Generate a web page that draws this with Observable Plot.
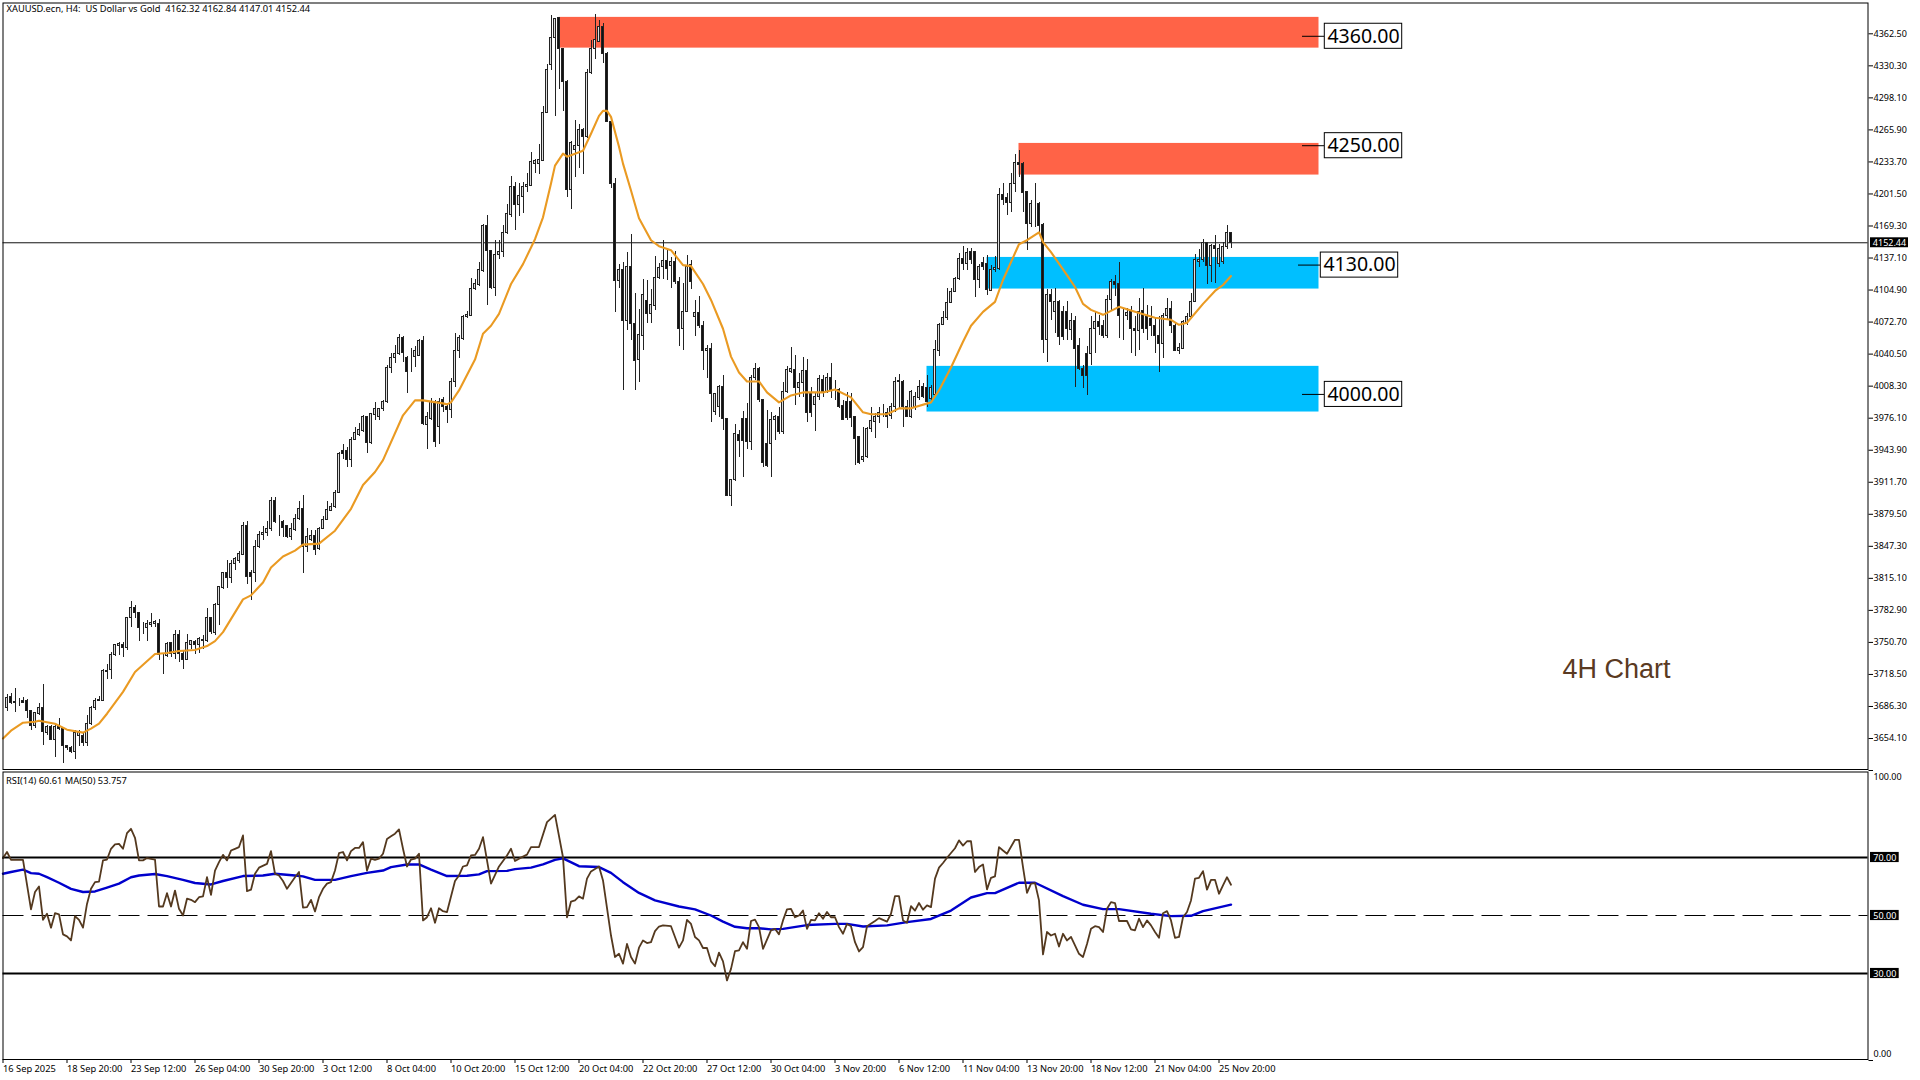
<!DOCTYPE html>
<html><head><meta charset="utf-8">
<script src="https://cdn.jsdelivr.net/npm/d3@7"></script>
<script src="https://cdn.jsdelivr.net/npm/@observablehq/plot@0.6"></script>
<style>
html,body{margin:0;padding:0;background:#fff;}
#chart{width:1920px;height:1080px;overflow:hidden;}
#chart svg{display:block;overflow:visible;}
</style></head><body><div id="chart"></div>
<script>
const opens=[3685,3696,3690,3691,3692,3692,3682,3667,3679,3685,
3660,3666,3653,3666,3664,3647,3645,3641,3657,3657,
3650,3669,3685,3692,3692,3721,3723,3738,3747,3748,
3745,3775,3785,3780,3765,3765,3768,3769,3769,3738,
3737,3750,3739,3758,3739,3733,3748,3751,3748,3752,
3752,3775,3760,3788,3805,3820,3815,3830,3833,3839,
3868,3820,3820,3847,3859,3861,3865,3893,3872,3872,
3868,3857,3864,3875,3885,3847,3854,3858,3845,3865,
3874,3883,3887,3901,3943,3943,3934,3954,3959,3963,
3977,3951,3979,3977,3985,3992,4027,4037,4041,4057,
4037,4039,4038,4039,4054,3969,3975,3992,3967,3994,
3987,3984,4012,4044,4056,4078,4079,4106,4110,4124,
4169,4144,4107,4140,4143,4162,4180,4209,4190,4198,
4208,4210,4232,4232,4235,4283,4331,4358,4378,4347,
4314,4205,4246,4250,4266,4259,4323,4347,4354,4369,
4342,4274,4212,4114,4125,4074,4128,4071,4035,4059,
4094,4081,4089,4117,4128,4134,4129,4133,4113,4066,
4083,4130,4078,4082,4069,4044,4046,3982,3987,4007,
3975,3898,3914,3959,3975,3975,3952,4017,4026,3994,
3950,3950,3974,3977,3962,4002,4023,4025,4006,4011,
4024,4001,3989,3997,4014,4002,4017,4004,4004,3988,
3992,3992,3977,3957,3934,3937,3965,3972,3977,3981,
3981,3978,3987,4012,4012,3987,3977,3987,3996,4007,
4006,3995,3999,4044,4070,4077,4092,4103,4116,4136,
4131,4143,4143,4115,4132,4131,4104,4125,4126,4200,
4197,4192,4212,4233,4232,4203,4171,4191,4191,4170,
4055,4100,4083,4093,4083,4083,4065,4074,4049,4026,
4041,4041,4066,4073,4069,4059,4095,4113,4111,4079,
4079,4083,4066,4064,4084,4079,4076,4069,4059,4051,
4079,4086,4069,4044,4046,4072,4078,4093,4133,4135,
4152,4129,4149,4131,4133,4148,4162.32];
const highs=[3698,3699,3704,3694,3695,3693,3682,3680,3689,3708,
3667,3667,3667,3674,3664,3647,3646,3662,3662,3660,
3677,3686,3694,3696,3723,3728,3741,3749,3751,3751,
3776,3792,3788,3780,3771,3773,3780,3773,3774,3740,
3751,3751,3763,3763,3742,3759,3753,3753,3756,3758,
3785,3776,3790,3806,3820,3833,3833,3836,3842,3871,
3872,3823,3853,3862,3867,3872,3896,3896,3878,3873,
3868,3870,3879,3892,3898,3865,3863,3863,3866,3877,
3892,3890,3903,3942,3950,3947,3957,3967,3971,3979,
3977,3981,3992,3986,3994,4029,4041,4049,4060,4058,
4038,4046,4048,4055,4058,3982,3996,3994,3996,3997,
3989,4016,4061,4059,4079,4083,4117,4116,4133,4171,
4180,4144,4155,4155,4170,4191,4219,4213,4212,4213,
4222,4243,4236,4251,4289,4332,4381,4378,4379,4347,
4316,4254,4275,4271,4267,4327,4356,4382,4376,4373,
4344,4274,4217,4131,4133,4143,4161,4101,4085,4116,
4115,4105,4139,4132,4155,4145,4138,4144,4118,4111,
4140,4135,4094,4098,4073,4049,4051,4001,4009,4019,
3976,3914,3970,3964,3983,3991,4019,4031,4027,3994,
3984,3982,3979,3987,4012,4028,4047,4039,4021,4037,
4035,4007,4002,4019,4019,4021,4031,4014,4006,3994,
4002,4001,3978,3958,3967,3967,3987,3981,3987,3990,
3986,3991,4017,4020,4014,3994,4004,4002,4014,4011,
4019,4009,4054,4071,4083,4106,4106,4118,4142,4149,
4147,4147,4144,4131,4138,4140,4130,4139,4207,4212,
4202,4222,4241,4245,4233,4203,4195,4212,4193,4172,
4105,4105,4106,4094,4088,4093,4081,4078,4056,4029,
4048,4078,4083,4079,4074,4099,4116,4120,4133,4086,
4086,4088,4078,4096,4106,4089,4088,4076,4078,4081,
4096,4093,4071,4051,4074,4081,4101,4141,4146,4156,
4153,4151,4160,4151,4153,4170,4162.84];
const lows=[3681,3688,3680,3686,3690,3674,3662,3664,3677,3647,
3657,3652,3635,3662,3629,3642,3639,3633,3646,3646,
3646,3667,3682,3691,3692,3713,3713,3737,3738,3736,
3743,3766,3775,3752,3759,3752,3766,3766,3733,3718,
3736,3736,3734,3731,3723,3733,3744,3739,3740,3744,
3751,3759,3758,3768,3804,3805,3810,3823,3830,3838,
3809,3793,3811,3845,3853,3857,3862,3870,3857,3856,
3855,3853,3862,3873,3820,3841,3852,3838,3843,3864,
3873,3882,3885,3900,3935,3927,3927,3954,3958,3962,
3941,3950,3974,3974,3983,3991,4021,4031,4039,4032,
4001,4022,4027,4038,3969,3945,3974,3947,3950,3982,
3971,3976,4007,4036,4054,4076,4078,4104,4108,4123,
4089,4105,4098,4136,4138,4161,4178,4165,4179,4182,
4203,4210,4222,4221,4234,4282,4326,4279,4307,4284,
4198,4186,4218,4227,4221,4257,4322,4337,4354,4333,
4274,4207,4082,4106,4004,4064,4054,4004,4012,4044,
4071,4071,4084,4116,4116,4115,4106,4110,4048,4044,
4082,4105,4058,4066,4024,4016,3972,3979,3977,3964,
3897,3887,3912,3937,3916,3945,3944,4014,3992,3927,
3927,3916,3954,3960,3960,4001,4021,3989,3997,3997,
3972,3977,3963,3994,3997,4001,3996,3994,3986,3974,
3974,3967,3929,3930,3932,3936,3962,3956,3971,3977,
3966,3975,3982,3986,3967,3977,3976,3984,3994,3996,
3987,3992,3997,4038,4069,4074,4091,4102,4115,4125,
4125,4131,4097,4106,4125,4099,4103,4123,4125,4190,
4180,4183,4203,4218,4183,4145,4168,4168,4160,4041,
4032,4074,4061,4049,4054,4054,4054,4007,4024,4006,
3999,4029,4041,4059,4056,4056,4083,4098,4056,4054,
4074,4041,4038,4044,4061,4054,4058,4041,4022,4036,
4074,4061,4043,4040,4045,4069,4076,4092,4128,4133,
4110,4113,4111,4128,4131,4146,4147.01];
const closes=[3695,3690,3690.5,3691,3690,3682,3667,3680,3685,3661,
3666,3653,3666,3664,3647,3645,3641,3660,3660,3650,
3669,3685,3692,3693,3722,3722,3738,3748,3749,3745,
3775,3785,3780,3765,3765,3769,3770,3771,3738,3738,
3749,3739,3758,3739,3733,3750,3752,3748,3754,3753,
3775,3761,3788,3806,3820,3815,3830,3835,3840,3868,
3816,3816,3847,3859,3861,3865,3893,3872,3872,3866,
3857,3865,3875,3885,3847,3857,3858,3844,3865,3874,
3884,3887,3901,3940,3940,3934,3954,3961,3964,3977,
3951,3980,3985,3985,3992,4027,4037,4041,4057,4042,
4023,4039,4044,4054,3970,3977,3992,3952,3992,3987,
3984,4012,4044,4057,4078,4080,4106,4111,4125,4169,
4144,4107,4140,4143,4162,4181,4209,4190,4199,4208,
4211,4234,4235,4236,4283,4326,4358,4377,4347,4314,
4205,4253,4250,4266,4259,4323,4347,4356,4369,4342,
4274,4212,4114,4125,4074,4128,4071,4034,4060,4100,
4081,4090,4117,4127,4134,4126,4133,4113,4066,4083,
4128,4113,4082,4069,4044,4046,4000,4000,4007,3975,
3898,3914,3960,3953,3953,3952,4017,4026,3994,3931,
3928,3974,3977,3962,4002,4025,4026,4006,4011,4024,
3981,3981,3997,4015,4002,4017,4004,4004,3987,3974,
3976,3976,3955,3931,3937,3965,3973,3977,3981,3981,
3977,3987,4012,4013,3987,3977,4002,3997,4007,3997,
3992,4006,4045,4070,4077,4092,4103,4116,4136,4131,
4142,4135,4115,4128,4128,4105,4125,4127,4200,4195,
4192,4212,4233,4231,4202,4171,4191,4191,4169,4055,
4100,4093,4093,4058,4058,4066,4074,4046,4026,4019,
4019,4066,4073,4068,4059,4095,4113,4110,4079,4079,
4082,4066,4064,4083,4066,4066,4069,4059,4051,4079,
4086,4069,4044,4047,4073,4078,4093,4135,4135,4152,
4129,4149,4146,4146,4148,4162,4152.44];

const maBars=[-1,1,4,7,8,12,15,19,21,23,25,29,32,37,40,43,47,50,52,54,59,61,64,66,69,72,74,78,82,86,89,92,94,99,102,104,109,110,111,113,117,119,121,123,126,129,132,134,136,137,139,140,144,146,148,149,150,151,153,154,156,158,161,163,166,169,171,174,176,179,181,183,185,188,190,193,196,199,204,207,211,214,216,220,223,226,231,233,236,239,241,244,247,249,253,255,258,259,261,265,267,269,271,274,278,282,287,291,293,295,299,302,304,306];
const maValues=[3654,3662,3670,3671,3672,3669,3663,3660,3664,3669,3679,3701,3721,3739,3740,3742,3743,3747,3752,3761,3794,3798,3811,3826,3837,3843,3849,3850,3863,3885,3909,3922,3934,3979,3994,3994,3991,3990,3992,4004,4035,4061,4069,4081,4111,4131,4156,4178,4212,4230,4242,4239,4245,4262,4280,4285,4285,4279,4249,4232,4205,4177,4155,4149,4145,4130,4129,4111,4095,4066,4038,4022,4013,4013,4002,3992,3999,4002,4002,4005,3997,3982,3980,3980,3986,3986,3992,4004,4027,4053,4069,4083,4093,4115,4151,4155,4163,4153,4143,4120,4108,4091,4085,4080,4088,4083,4077,4075,4070,4072,4091,4104,4110,4119];

const rsiBars=[-1,0,1,4,6,7,8,9,10,11,12,13,14,15,16,17,18,19,20,21,22,23,24,25,26,27,28,29,30,31,32,33,34,35,37,38,39,40,41,42,43,44,45,46,47,48,49,50,51,52,53,54,55,56,57,58,59,60,61,62,63,65,66,67,68,69,70,72,73,74,75,76,77,78,79,80,81,82,83,84,85,86,87,88,89,90,91,92,93,94,95,96,97,98,99,100,101,102,103,104,105,106,107,108,109,110,112,113,114,115,116,117,118,119,120,121,123,125,126,127,128,130,131,133,135,137,139,140,141,142,143,144,145,146,148,149,151,152,153,154,155,156,157,158,
159,160,161,162,163,164,166,168,169,170,171,172,173,174,175,176,177,178,179,180,181,182,183,184,185,186,187,188,189,191,192,193,194,195,196,197,198,199,200,201,202,203,204,205,206,207,208,209,210,211,212,213,214,215,217,218,220,221,222,223,224,225,226,227,228,229,230,231,232,233,234,235,237,238,239,240,241,242,243,244,245,246,247,248,249,250,252,253,254,255,256,257,258,259,260,261,262,263,264,265,266,268,269,270,271,272,273,274,275,276,277,278,280,281,282,283,284,285,286,287,288,289,290,291,292,293,294,295,296,297,298,299,300,301,302,303,304,305,306];
const rsiValues=[69.8,71.9,69.2,69.2,52.1,58.1,60.0,48.5,50.6,45.8,50.8,50.4,43.5,42.8,41.4,49.8,48.5,45.8,54.0,59.2,61.5,61.7,69.0,69.3,73.0,74.5,74.7,73.0,78.4,79.9,76.8,69.0,69.0,69.8,69.3,53.1,53.1,57.7,53.1,58.6,52.3,50.0,55.8,55.4,54.6,56.3,56.6,63.2,57.1,65.5,68.4,70.9,69.0,72.4,73.0,73.6,77.6,58.4,58.9,64.4,66.5,67.8,72.2,64.4,63.8,61.9,59.2,63.2,65.0,52.7,52.9,55.4,51.4,56.3,59.2,61.0,61.5,65.5,71.5,71.9,69.0,72.2,73.3,73.3,75.3,65.5,69.6,69.2,69.6,71.3,76.4,77.3,78.2,79.7,73.0,66.9,69.3,69.6,71.3,48.3,49.4,52.5,47.5,52.5,51.5,51.2,61.9,63.8,66.9,67.3,70.7,70.9,73.0,77.0,69.0,61.0,66.9,70.7,73.0,68.8,69.6,71.0,73.6,73.6,82.2,84.7,70.1,49.4,54.8,55.2,56.6,55.8,62.7,65.2,66.9,62.1,43.1,35.7,36.8,33.4,40.2,35.7,33.4,38.9,
41.4,40.5,40.8,44.6,46.2,46.6,46.3,38.9,41.4,48.5,47.1,42.6,41.4,38.8,38.8,34.2,32.5,37.2,34.2,27.6,31.6,37.7,38.0,40.8,38.5,48.1,48.6,46.0,38.5,44.9,45.4,43.5,48.3,52.1,52.3,49.4,50.0,51.7,45.4,48.5,48.3,50.8,48.9,51.2,49.4,49.4,46.0,43.7,47.1,46.3,40.8,37.6,39.1,46.3,48.1,49.1,47.9,50.6,56.7,56.7,48.3,47.5,53.2,51.7,54.3,52.0,53.5,52.9,62.7,66.5,68.1,69.9,73.2,75.9,74.1,75.6,75.6,65.0,66.7,67.6,59.0,63.0,63.5,73.6,72.4,71.3,76.1,76.1,66.7,57.8,61.0,61.2,55.2,36.6,44.3,43.1,43.7,39.3,43.7,41.4,42.6,36.8,35.7,40.2,45.4,46.3,46.0,44.3,52.3,54.6,54.3,48.1,48.1,45.2,44.9,48.9,46.0,48.3,46.6,44.3,42.3,50.8,51.5,48.3,42.3,42.6,49.4,51.2,55.2,62.7,63.0,65.3,58.9,62.3,62.3,57.5,60.4,63.2,60.61];

const rsiMaBars=[-1,1,4,6,8,10,13,16,19,22,25,28,31,33,37,40,44,47,51,54,59,64,67,72,74,77,82,86,90,94,96,100,103,106,110,115,118,120,125,127,131,134,137,139,143,148,151,154,158,162,168,172,176,179,182,185,188,191,194,200,207,210,214,220,225,231,236,241,245,247,253,257,264,269,274,278,286,291,296,299,306];
const rsiMaValues=[64.4,65.0,65.8,64.6,64.4,63.2,61.3,59.2,58.1,58.3,59.6,61.0,63.2,63.8,64.3,63.6,62.3,61.2,60.7,61.9,63.6,63.8,64.4,63.8,63.5,62.3,62.3,63.6,64.7,65.5,66.7,67.6,67.6,65.8,63.6,63.7,64.2,65.3,65.4,66.0,66.5,67.6,69.2,69.7,67.0,66.7,64.7,61.5,57.8,55.2,53.1,52.1,50.0,47.9,46.1,45.6,45.6,45.2,45.4,46.7,47.1,47.1,46.2,46.6,47.7,48.8,51.7,56.2,57.7,57.7,61.3,61.3,56.7,53.7,52.2,52.2,50.6,49.8,49.9,51.5,53.76];

const priceTicks=[4362.5,4330.3,4298.1,4265.9,4233.7,4201.5,4169.3,4137.1,4104.9,4072.7,4040.5,4008.3,3976.1,3943.9,3911.7,3879.5,3847.3,3815.1,3782.9,3750.7,3718.5,3686.3,3654.1];
const lastPrice=4152.44;
const zoneStart=[138,253,245,230];
const zoneTop=[4379,4252.3,4137.7,4028.2];
const zoneBottom=[4348.1,4220.5,4105.9,3982.3];
const zoneColor=["#ff6347","#ff6347","#00bfff","#00bfff"];
const zoneLevel=[4360,4250,4130,4000];
const labelShift=[0,0,-1,0];
const zoneEnd=328;
const dateBars=[-1,15,31,47,63,79,95,111,127,143,159,175,191,207,223,239,255,271,287,303];
const dateLabels=["16 Sep 2025","18 Sep 20:00","23 Sep 12:00","26 Sep 04:00","30 Sep 20:00","3 Oct 12:00","8 Oct 04:00","10 Oct 20:00","15 Oct 12:00","20 Oct 04:00","22 Oct 20:00","27 Oct 12:00","30 Oct 04:00","3 Nov 20:00","6 Nov 12:00","11 Nov 04:00","13 Nov 20:00","18 Nov 12:00","21 Nov 04:00","25 Nov 20:00"];
const rsiLevels=[70,50,30];
const titleText="XAUUSD.ecn, H4:  US Dollar vs Gold  4162.32 4162.84 4147.01 4152.44";
const rsiText="RSI(14) 60.61 MA(50) 53.757";

const bars=d3.range(closes.length);
const barAt=px=>(px-6.5)/4;
const xScale={domain:[barAt(2.5),barAt(1867.5)],range:[2.5,1867.5],axis:null};
const FONT="'Noto Sans',sans-serif";
const BLACK="#000";

const zones=d3.range(zoneStart.length);
const main=Plot.plot({
  width:1920,height:770,marginLeft:2.5,marginRight:52.5,marginTop:2.5,marginBottom:1,
  style:{fontFamily:FONT,fontSize:"9px",background:"#fff",color:BLACK},
  x:xScale,
  y:{domain:[3622.95,4393.46],range:[769,2.5],axis:null},
  marks:[
    Plot.rect(zones,{x1:i=>zoneStart[i],x2:zoneEnd,y1:i=>zoneBottom[i],y2:i=>zoneTop[i],fill:i=>zoneColor[i]}),
    Plot.ruleY([lastPrice],{stroke:"#111",strokeWidth:1}),
    Plot.ruleX(bars,{x:i=>i,y1:i=>lows[i],y2:i=>highs[i],stroke:"#222",strokeWidth:1,shapeRendering:"crispEdges"}),
    Plot.rect(bars,{x1:i=>i-.25,x2:i=>i+.25,y1:i=>opens[i],y2:i=>closes[i],fill:i=>closes[i]>=opens[i]?"#ddd":"#111",stroke:"#222",strokeWidth:1,shapeRendering:"crispEdges"}),
    Plot.line(maBars.map((b,k)=>[b,maValues[k]]),{x:d=>d[0],y:d=>d[1],stroke:"#ea9a22",strokeWidth:2.1,curve:"linear"}),
    Plot.ruleY(zones,{x1:i=>barAt(1302)+labelShift[i],x2:i=>barAt(1324.3)+labelShift[i],y:i=>zoneLevel[i],stroke:"#000",strokeWidth:1}),
    Plot.rect(zones,{x1:i=>barAt(1324.3)+labelShift[i],x2:i=>barAt(1401.7)+labelShift[i],y1:i=>zoneLevel[i]-12.6,y2:i=>zoneLevel[i]+12.6,fill:"#fff",stroke:"#000",strokeWidth:1}),
    Plot.text(zones,{x:i=>barAt(1363)+labelShift[i],y:i=>zoneLevel[i],text:i=>zoneLevel[i].toFixed(2),fontSize:19.5,fill:"#000",fontFamily:FONT}),
    Plot.text(["4H Chart"],{x:barAt(1616),y:3724,text:d=>d,fontSize:27,fill:"#5a3a22",fontFamily:"'Liberation Sans',sans-serif"}),
    Plot.text([titleText],{frameAnchor:"top-left",dx:3.5,dy:2.5,text:d=>d,lineAnchor:"top",fill:"#000",fontSize:9.3}),
    Plot.axisY({anchor:"right",ticks:priceTicks,tickSize:4.5,tickPadding:1,tickFormat:d=>d.toFixed(2),stroke:"#000",fill:"#000"}),
    Plot.rect([lastPrice],{x1:barAt(1870),x2:barAt(1908),y1:d=>d-5,y2:d=>d+5,fill:"#000"}),
    Plot.text([lastPrice],{x:barAt(1889),y:d=>d,dy:0.5,text:d=>d.toFixed(2),fill:"#fff",fontSize:9}),
    Plot.frame({stroke:"#000",strokeWidth:1})
  ]
});
const rsi=Plot.plot({
  width:1920,height:310,marginLeft:2.5,marginRight:52.5,marginTop:1.5,marginBottom:21,
  style:{fontFamily:FONT,fontSize:"9.3px",background:"#fff",color:BLACK},
  x:xScale,
  y:{domain:[0,100],range:[290,0],axis:null},
  marks:[
    Plot.ruleY([70,30],{stroke:"#000",strokeWidth:2}),
    Plot.ruleY([50],{stroke:"#000",strokeWidth:1,strokeDasharray:"21,8"}),
    Plot.line(rsiMaBars.map((b,k)=>[b,rsiMaValues[k]]),{x:d=>d[0],y:d=>d[1],stroke:"#0000cc",strokeWidth:2.4}),
    Plot.line(rsiBars.map((b,k)=>[b,rsiValues[k]]),{x:d=>d[0],y:d=>d[1],stroke:"#54391f",strokeWidth:1.8}),
    Plot.text([rsiText],{frameAnchor:"top-left",dx:3,dy:5,text:d=>d,lineAnchor:"top",fill:"#000",fontSize:9.3}),
    Plot.axisY({anchor:"right",ticks:[100,0],tickSize:4.5,text:null,stroke:"#000"}),
    Plot.text([100],{x:barAt(1873),y:d=>d,dy:7,text:d=>d.toFixed(2),textAnchor:"start",fill:"#000",fontSize:9}),
    Plot.text([0],{x:barAt(1873),y:d=>d,dy:-6,text:d=>d.toFixed(2),textAnchor:"start",fill:"#000",fontSize:9}),
    Plot.rect(rsiLevels,{x1:barAt(1870),x2:barAt(1898.7),y1:d=>d-1.75,y2:d=>d+1.75,fill:"#000"}),
    Plot.text(rsiLevels,{x:barAt(1884.3),y:d=>d,dy:0.7,text:d=>d.toFixed(2),fill:"#fff",fontSize:9}),
    Plot.axisX({anchor:"bottom",ticks:dateBars,tickSize:4,tickPadding:2,textAnchor:"start",tickFormat:d=>dateLabels[dateBars.indexOf(d)],fill:"#000",stroke:"#000"}),
    Plot.frame({stroke:"#000",strokeWidth:1})
  ]
});
document.getElementById("chart").append(main,rsi);
</script></body></html>
